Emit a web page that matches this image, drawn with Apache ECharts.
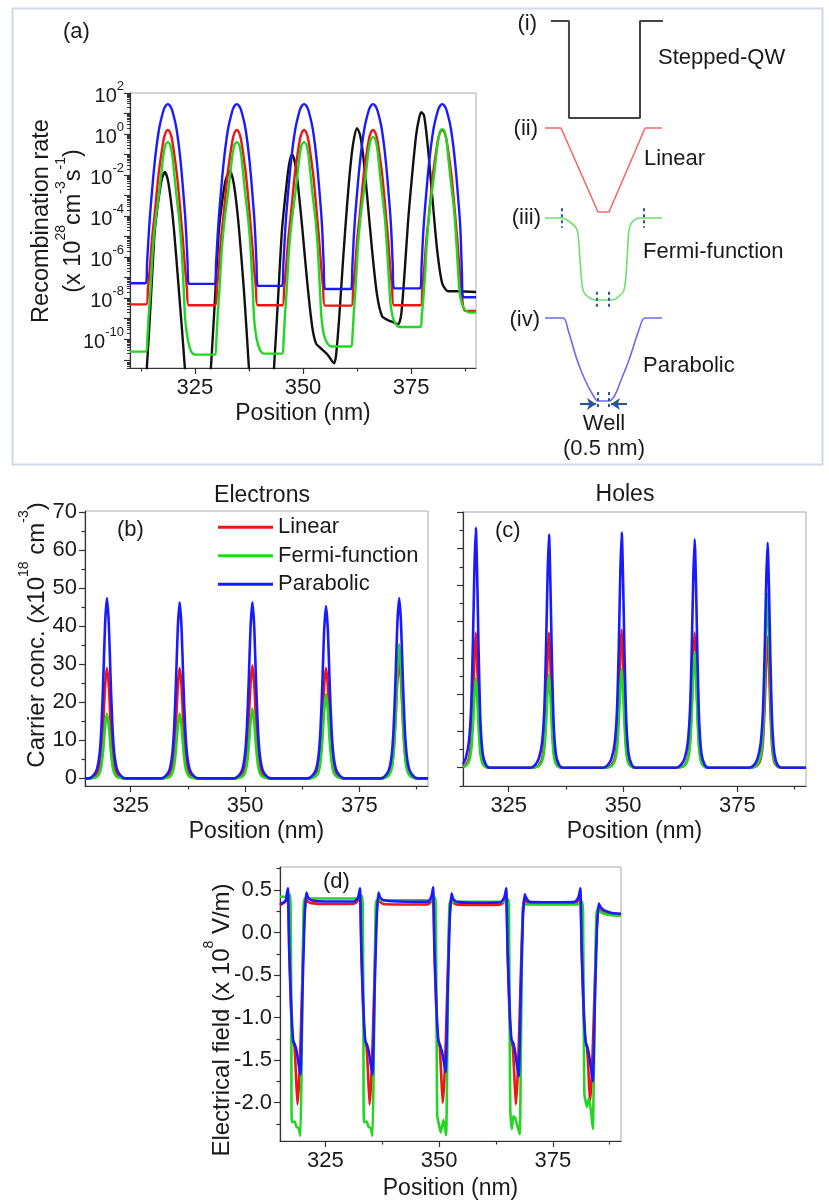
<!DOCTYPE html>
<html>
<head>
<meta charset="utf-8">
<script src="https://cdn.jsdelivr.net/npm/echarts@6/dist/echarts.min.js"></script>
<style>
html, body { margin: 0; padding: 0; background: #ffffff; }
#chart { width: 829px; height: 1202px; }
</style>
</head>
<body>
<div id="chart"></div>
<script>
// ---------------- (a) recombination rate: [position nm, log10(rate / 1e28 cm^-3 s^-1)]
const logRateStepped = [
  [312.96, -14], [313.89, -11.41], [314.81, -8.1], [315.74, -4.68], [316.67, -3.07], [317.36, -2.2], [318.06, -1.85],
  [318.75, -2.24], [319.44, -3.22], [320.14, -4.59], [321.3, -7.61], [322.69, -11.41], [323.38, -14],
  [327.78, -14], [328.7, -11.41], [329.63, -8.1], [330.56, -4.68], [331.48, -3.02], [332.18, -2.2], [333.1, -1.8],
  [333.8, -2.2], [334.49, -3.17], [335.19, -4.59], [336.34, -7.61], [337.5, -11.41], [338.19, -14],
  [342.36, -14], [343.29, -11.41], [344.21, -8.1], [345.14, -4.68], [346.06, -2.73], [346.76, -1.51], [347.45, -0.98],
  [348.15, -1.41], [348.84, -2.49], [349.77, -4.44], [350.93, -7.12], [352.08, -9.32], [353.01, -10.2], [354.4, -10.49],
  [355.79, -10.78], [357.18, -11.17], [357.64, -10.78], [358.33, -9.07], [359.26, -6.15], [360.19, -3.46], [361.11, -1.27],
  [361.81, -0.2], [362.5, 0.29], [363.19, -0.05], [363.89, -1.02], [364.81, -2.98], [365.97, -5.66], [367.13, -7.85],
  [368.29, -8.88], [369.68, -9.07], [370.83, -9.17], [371.99, -9.27], [372.69, -8.83], [373.61, -6.39], [374.31, -4.2],
  [375.23, -2.0], [376.16, -0.05], [376.85, 0.78], [377.31, 1.07], [378.01, 0.88], [378.94, -0.78], [379.86, -2.98],
  [381.02, -5.66], [382.18, -7.27], [383.56, -7.66], [385.65, -7.66], [390, -7.7]
];
const logRateLinear = [
  [310, -8.3],
  [313.75, -8.3], [314.15, -7.5], [314.55, -6.6], [315.05, -5.2], [315.65, -4.0], [316.2, -2.8], [316.7, -1.8], [317.75, -0.3], [318.25, 0.08], [318.75, 0.2],
  [319.25, 0.08], [319.75, -0.3], [320.75, -1.8], [321.25, -2.8], [321.75, -4.0], [322.25, -5.2], [322.75, -6.6], [323.15, -7.5], [323.55, -8.34],
  [329.7, -8.34], [330.1, -7.5], [330.5, -6.6], [331.0, -5.2], [331.6, -4.0], [332.15, -2.8], [332.65, -1.8], [333.7, -0.3], [334.2, 0.08], [334.7, 0.2],
  [335.2, 0.08], [335.7, -0.3], [336.7, -1.8], [337.2, -2.8], [337.7, -4.0], [338.2, -5.2], [338.7, -6.6], [339.1, -7.5], [339.5, -8.34],
  [345.25, -8.34], [345.65, -7.5], [346.05, -6.6], [346.55, -5.2], [347.15, -4.0], [347.7, -2.8], [348.2, -1.8], [349.25, -0.3], [349.75, 0.08], [350.25, 0.2],
  [350.75, 0.08], [351.25, -0.3], [352.25, -1.8], [352.75, -2.8], [353.25, -4.0], [353.75, -5.2], [354.25, -6.6], [354.65, -7.5], [355.05, -8.36],
  [361.2, -8.36], [361.6, -7.5], [362.0, -6.6], [362.5, -5.2], [363.1, -4.0], [363.65, -2.8], [364.15, -1.8], [365.2, -0.3], [365.7, 0.08], [366.2, 0.2],
  [366.7, 0.08], [367.2, -0.3], [368.2, -1.8], [368.7, -2.8], [369.2, -4.0], [369.7, -5.2], [370.2, -6.6], [370.6, -7.5], [371.0, -8.34],
  [377.2, -8.34], [377.6, -7.5], [378.0, -6.6], [378.5, -5.2], [379.1, -4.0], [379.65, -2.8], [380.15, -1.8], [381.2, -0.3], [381.7, 0.08], [382.2, 0.2],
  [382.7, 0.08], [383.2, -0.3], [384.2, -1.8], [384.7, -2.8], [385.2, -4.0], [385.7, -5.2], [386.2, -6.6], [386.7, -7.7], [387.4, -8.6],
  [390, -8.62]
];
const logRateFermi = [
  [310, -10.6],
  [313.75, -10.6], [314.0, -10.0], [314.3, -8.9], [314.7, -7.7], [315.25, -5.7], [315.85, -4.3], [316.65, -3.0], [317.3, -1.8], [317.75, -1.0], [318.25, -0.5], [318.75, -0.4],
  [319.25, -0.5], [319.75, -1.0], [320.15, -1.8], [320.75, -3.0], [321.45, -4.3], [321.95, -5.7], [322.45, -7.7], [322.75, -9.0], [323.35, -10.0], [324.15, -10.6], [325.05, -10.75],
  [329.7, -10.75], [329.95, -10.1], [330.25, -8.9], [330.65, -7.7], [331.2, -5.7], [331.8, -4.3], [332.6, -3.0], [333.25, -1.8], [333.7, -1.0], [334.2, -0.5], [334.7, -0.4],
  [335.2, -0.5], [335.7, -1.0], [336.1, -1.8], [336.7, -3.0], [337.4, -4.3], [337.9, -5.7], [338.4, -7.7], [338.7, -9.0], [339.3, -10.0], [340.1, -10.55], [341.0, -10.7],
  [345.25, -10.7], [345.5, -10.1], [345.8, -8.9], [346.2, -7.7], [346.75, -5.7], [347.35, -4.3], [348.15, -3.0], [348.8, -1.8], [349.25, -1.0], [349.75, -0.5], [350.25, -0.4],
  [350.75, -0.5], [351.25, -1.0], [351.65, -1.8], [352.25, -3.0], [352.95, -4.3], [353.45, -5.7], [353.95, -7.7], [354.25, -8.9], [354.85, -9.8], [355.65, -10.2], [356.55, -10.35],
  [361.2, -10.35], [361.45, -9.8], [361.75, -8.7], [362.15, -7.5], [362.7, -5.45], [363.3, -4.05], [364.1, -2.75], [364.75, -1.55], [365.2, -0.75], [365.7, -0.25], [366.2, -0.15],
  [366.7, -0.25], [367.2, -0.75], [367.6, -1.55], [368.2, -2.75], [368.9, -4.05], [369.4, -5.45], [369.9, -7.2], [370.2, -8.2], [370.8, -8.95], [371.6, -9.3], [372.5, -9.4],
  [377.2, -9.4], [377.45, -8.9], [377.75, -8.2], [378.15, -7.1], [378.7, -5.06], [379.3, -3.66], [380.1, -2.36], [380.75, -1.16], [381.2, -0.36], [381.7, 0.14], [382.2, 0.24],
  [382.7, 0.14], [383.2, -0.36], [383.6, -1.16], [384.2, -2.36], [384.9, -3.66], [385.4, -5.06], [385.9, -6.8], [386.2, -7.7], [386.8, -8.3], [387.6, -8.6], [388.5, -8.7],
  [390, -8.7]
];
const logRateParabolic = [
  [310, -7.27],
  [313.65, -7.27], [313.95, -6.27], [314.3, -5.0], [314.65, -3.9], [315.65, -1.5], [316.7, 0.22], [317.75, 1.16], [318.25, 1.38], [318.75, 1.46],
  [319.25, 1.38], [319.75, 1.16], [320.75, 0.26], [321.7, -1.34], [322.7, -3.84], [323.0, -4.9], [323.3, -6.2], [323.6, -7.3],
  [329.6, -7.3], [329.9, -6.3], [330.25, -5.0], [330.6, -3.9], [331.6, -1.5], [332.65, 0.22], [333.7, 1.16], [334.2, 1.38], [334.7, 1.46],
  [335.2, 1.38], [335.7, 1.16], [336.7, 0.26], [337.65, -1.34], [338.65, -3.84], [338.95, -4.9], [339.25, -6.3], [339.55, -7.4],
  [345.15, -7.4], [345.45, -6.4], [345.8, -5.0], [346.15, -3.9], [347.15, -1.5], [348.2, 0.22], [349.25, 1.16], [349.75, 1.38], [350.25, 1.46],
  [350.75, 1.38], [351.25, 1.16], [352.25, 0.26], [353.2, -1.34], [354.2, -3.84], [354.5, -4.9], [354.8, -6.45], [355.1, -7.55],
  [361.1, -7.55], [361.4, -6.5], [361.75, -5.0], [362.1, -3.9], [363.1, -1.5], [364.15, 0.22], [365.2, 1.16], [365.7, 1.38], [366.2, 1.46],
  [366.7, 1.38], [367.2, 1.16], [368.2, 0.26], [369.15, -1.34], [370.15, -3.84], [370.45, -4.9], [370.75, -6.4], [371.05, -7.52],
  [377.1, -7.52], [377.4, -6.5], [377.75, -5.0], [378.1, -3.9], [379.1, -1.5], [380.15, 0.22], [381.2, 1.16], [381.7, 1.38], [382.2, 1.46],
  [382.7, 1.38], [383.2, 1.16], [384.2, 0.26], [385.15, -1.34], [386.15, -3.84], [386.45, -4.9], [386.75, -6.8], [387.05, -7.95],
  [390, -7.95]
];
const rateTickExponents = [-10, -8, -6, -4, -2, 0, 2];

// ---------------- well profiles: [position relative to well centre (nm), normalised band edge]
const wellStepped = [[-2.39, 1], [-1.57, 1], [-1.57, 0], [1.66, 0], [1.66, 1], [2.7, 1]];
const wellLinear = [[-2.66, 1], [-1.93, 1], [-0.25, 0], [0.25, 0], [1.89, 1], [2.66, 1]];
const wellFermi = [[-2.66, 1], [-1.9, 1], [-1.52, 0.95], [-1.2, 0.854], [-1.07, 0.49], [-0.93, 0.12], [-0.7, 0.037], [-0.4, 0],
  [0.4, 0], [0.66, 0.037], [0.93, 0.12], [1.07, 0.49], [1.16, 0.854], [1.3, 0.95], [1.66, 1], [2.66, 1]];
const wellParabolic = [[-2.66, 1], [-1.84, 1], [-1.61, 0.855], [-1.2, 0.494], [-0.84, 0.253], [-0.48, 0.072], [-0.25, 0],
  [0.25, 0], [0.52, 0.072], [0.8, 0.253], [1.16, 0.494], [1.61, 0.855], [1.89, 1], [2.66, 1]];
const wellWidth = 0.5;

// ---------------- (b) electron concentration (x1e18 cm^-3)
const posElectrons = [315,
  315.8, 316.8, 317.6, 318.2, 318.6, 319.0, 319.4, 319.8, 320.2, 320.6, 321.0, 321.4, 322.0, 322.8, 323.8,
  331.7, 332.7, 333.5, 334.1, 334.5, 334.9, 335.3, 335.7, 336.1, 336.5, 336.9, 337.3, 337.9, 338.7, 339.7,
  347.6, 348.6, 349.4, 350.0, 350.4, 350.8, 351.2, 351.6, 352.0, 352.4, 352.8, 353.2, 353.8, 354.6, 355.6,
  363.7, 364.7, 365.5, 366.1, 366.5, 366.9, 367.3, 367.7, 368.1, 368.5, 368.9, 369.3, 369.9, 370.7, 371.7,
  379.7, 380.7, 381.5, 382.1, 382.5, 382.9, 383.3, 383.7, 384.1, 384.5, 384.9, 385.3, 385.9, 386.7, 387.7,
  390];
const elecLinear = [0,
  0, 0.3, 1.2, 3.2, 7.3, 14.5, 24.4, 29.0, 24.4, 14.5, 7.3, 3.2, 1.2, 0.3, 0,
  0, 0.3, 1.2, 3.2, 7.3, 14.5, 24.4, 29.0, 24.4, 14.5, 7.3, 3.2, 1.2, 0.3, 0,
  0, 0.3, 1.2, 3.3, 7.4, 14.9, 24.9, 29.7, 24.9, 14.9, 7.4, 3.3, 1.2, 0.3, 0,
  0, 0.3, 1.2, 3.2, 7.3, 14.5, 24.4, 29.0, 24.4, 14.5, 7.3, 3.2, 1.2, 0.3, 0,
  0, 0.3, 1.2, 3.4, 7.6, 15.3, 25.6, 30.5, 25.6, 15.3, 7.6, 3.4, 1.2, 0.3, 0,
  0];
const elecFermi = [0,
  0, 0.1, 0.4, 1.4, 3.4, 7.7, 13.7, 17.1, 13.7, 7.7, 3.4, 1.4, 0.4, 0.1, 0,
  0, 0.1, 0.4, 1.4, 3.4, 7.7, 13.7, 17.1, 13.7, 7.7, 3.4, 1.4, 0.4, 0.1, 0,
  0, 0.1, 0.5, 1.5, 3.7, 8.3, 14.7, 18.4, 14.7, 8.3, 3.7, 1.5, 0.5, 0.1, 0,
  0, 0.1, 0.6, 1.8, 4.4, 9.9, 17.7, 22.1, 17.7, 9.9, 4.4, 1.8, 0.6, 0.1, 0,
  0, 0.2, 0.9, 2.8, 7.1, 15.9, 28.2, 35.3, 28.2, 15.9, 7.1, 2.8, 0.9, 0.2, 0,
  0];
const elecParabolic = [0,
  0, 0.7, 2.4, 6.6, 13.7, 26.1, 40.8, 47.4, 40.8, 26.1, 13.7, 6.6, 2.4, 0.7, 0,
  0, 0.7, 2.3, 6.5, 13.4, 25.5, 39.8, 46.3, 39.8, 25.5, 13.4, 6.5, 2.3, 0.7, 0,
  0, 0.7, 2.3, 6.5, 13.4, 25.5, 39.8, 46.3, 39.8, 25.5, 13.4, 6.5, 2.3, 0.7, 0,
  0, 0.7, 2.3, 6.3, 13.1, 24.9, 39.0, 45.3, 39.0, 24.9, 13.1, 6.3, 2.3, 0.7, 0,
  0, 0.7, 2.4, 6.6, 13.7, 26.1, 40.8, 47.4, 40.8, 26.1, 13.7, 6.6, 2.4, 0.7, 0,
  0];

// ---------------- (c) hole concentration (x1e18 cm^-3)
const posHoles = [
  315.0, 315.6, 316.3, 316.8, 317.2, 317.5, 317.8, 318.1, 318.4, 318.8, 319.3, 320.0, 320.8, 321.8,
  329.8, 330.8, 331.6, 332.3, 332.8, 333.2, 333.5, 333.8, 334.1, 334.4, 334.8, 335.3, 336.0, 336.8, 337.8,
  345.7, 346.7, 347.5, 348.2, 348.7, 349.1, 349.4, 349.7, 350.0, 350.3, 350.7, 351.2, 351.9, 352.7, 353.7,
  361.65, 362.65, 363.45, 364.15, 364.65, 365.05, 365.35, 365.65, 365.95, 366.25, 366.65, 367.15, 367.85, 368.65, 369.65,
  377.6, 378.6, 379.4, 380.1, 380.6, 381.0, 381.3, 381.6, 381.9, 382.2, 382.6, 383.1, 383.8, 384.6, 385.6,
  390];
const holeLinear = [
  0.2, 0.7, 2.6, 7.4, 18.5, 30.3, 37.0, 28.9, 16.7, 5.6, 1.5, 0.3, 0, 0,
  0, 0.2, 0.7, 2.6, 7.4, 18.5, 30.3, 37.0, 28.9, 16.7, 5.6, 1.5, 0.3, 0, 0,
  0, 0.2, 0.8, 2.6, 7.6, 18.9, 31.0, 37.8, 29.5, 17.0, 5.7, 1.5, 0.3, 0, 0,
  0, 0.2, 0.7, 2.6, 7.4, 18.5, 30.3, 37.0, 28.9, 16.7, 5.6, 1.5, 0.3, 0, 0,
  0, 0.2, 0.7, 2.5, 7.2, 18.0, 29.4, 35.9, 28.0, 16.2, 5.4, 1.4, 0.3, 0, 0,
  0];
const holeFermi = [
  0.2, 0.5, 1.7, 4.9, 12.2, 20.0, 24.4, 19.0, 11.0, 3.7, 1.0, 0.2, 0, 0,
  0, 0.1, 0.5, 1.8, 5.1, 12.8, 20.9, 25.5, 19.9, 11.5, 3.8, 1.0, 0.2, 0, 0,
  0, 0.1, 0.5, 1.9, 5.4, 13.6, 22.2, 27.1, 21.1, 12.2, 4.1, 1.1, 0.2, 0, 0,
  0, 0.2, 0.6, 2.2, 6.4, 15.9, 26.1, 31.8, 24.8, 14.3, 4.8, 1.3, 0.3, 0, 0,
  0, 0.2, 1.0, 3.3, 9.5, 23.9, 39.1, 47.7, 37.2, 21.5, 7.2, 1.9, 0.4, 0, 0,
  0];
const holeParabolic = [
  1.0, 2.6, 7.2, 17.1, 36.1, 54.5, 65.7, 52.6, 32.9, 13.1, 3.9, 0.8, 0, 0,
  0, 0.8, 2.6, 7.0, 16.6, 35.1, 53.0, 63.8, 51.0, 31.9, 12.8, 3.8, 0.8, 0, 0,
  0, 0.8, 2.6, 7.1, 16.7, 35.4, 53.5, 64.4, 51.5, 32.2, 12.9, 3.9, 0.8, 0, 0,
  0, 0.8, 2.5, 6.9, 16.3, 34.4, 51.9, 62.5, 50.0, 31.3, 12.5, 3.8, 0.8, 0, 0,
  0, 0.7, 2.5, 6.8, 16.0, 33.9, 51.1, 61.6, 49.3, 30.8, 12.3, 3.7, 0.7, 0, 0,
  0];
const concTicks = [0, 10, 20, 30, 40, 50, 60, 70];

// ---------------- (d) electrical field (x1e8 V/m): [position nm, field]
const fieldLinear = [
  [315.0, 0.32], [316.19, 0.36], [316.49, 0.40], [316.74, 0.46], [317.04, -0.25], [317.49, -1.0], [317.89, -1.3], [318.19, -1.34], [318.49, -1.65],
  [318.84, -2.02], [319.19, -1.75], [319.54, -1.25], [319.94, -0.5], [320.34, 0.2], [320.74, 0.40], [321.19, 0.36], [321.89, 0.345],
  [325.0, 0.335], [329.0, 0.335],
  [331.35, 0.34], [332.05, 0.37], [332.35, 0.40], [332.6, 0.46], [332.9, -0.25], [333.35, -1.0], [333.75, -1.3], [334.05, -1.34], [334.35, -1.65],
  [334.7, -2.02], [335.05, -1.75], [335.4, -1.25], [335.8, -0.5], [336.2, 0.2], [336.6, 0.40], [337.05, 0.36], [337.75, 0.335],
  [341.0, 0.33], [345.0, 0.33],
  [347.43, 0.33], [348.13, 0.36], [348.43, 0.40], [348.68, 0.46], [348.98, -0.25], [349.43, -1.0], [349.83, -1.3], [350.13, -1.34], [350.43, -1.65],
  [350.78, -2.0], [351.13, -1.75], [351.48, -1.25], [351.88, -0.5], [352.28, 0.2], [352.68, 0.40], [353.13, 0.35], [353.83, 0.33],
  [357.0, 0.325], [361.0, 0.325],
  [363.51, 0.33], [364.21, 0.36], [364.51, 0.40], [364.76, 0.46], [365.06, -0.25], [365.51, -1.0], [365.91, -1.3], [366.21, -1.34], [366.51, -1.65],
  [366.86, -2.02], [367.21, -1.75], [367.56, -1.25], [367.96, -0.5], [368.36, 0.2], [368.76, 0.40], [369.21, 0.36], [369.91, 0.34],
  [373.0, 0.335], [377.0, 0.335],
  [379.81, 0.34], [380.51, 0.37], [380.81, 0.40], [381.06, 0.46], [381.36, -0.25], [381.81, -1.0], [382.21, -1.3], [382.51, -1.34], [382.81, -1.6],
  [383.16, -1.98], [383.51, -1.75], [383.86, -1.25], [384.26, -0.55], [384.66, 0.05], [385.06, 0.28], [385.5, 0.26], [386.3, 0.23], [388.0, 0.21], [390.0, 0.2]
];
const fieldFermi = [
  [315.0, 0.42], [316.5, 0.42], [317.19, 0.45], [317.34, 0.3], [317.49, -1.0], [317.59, -2.23], [318.19, -2.22], [318.59, -2.28], [319.09, -2.3],
  [319.49, -2.39], [319.74, -1.6], [319.99, -0.4], [320.19, 0.3], [320.44, 0.40], [321.5, 0.40],
  [332.5, 0.40], [333.05, 0.43], [333.2, 0.3], [333.35, -1.0], [333.45, -2.23], [334.05, -2.22], [334.45, -2.28], [334.95, -2.3],
  [335.35, -2.39], [335.6, -1.6], [335.85, -0.4], [336.05, 0.3], [336.3, 0.38], [337.5, 0.38],
  [348.5, 0.38], [349.13, 0.41], [349.28, 0.3], [349.48, -1.5], [349.58, -2.15], [349.93, -2.25], [350.33, -2.35], [350.98, -2.2],
  [351.53, -2.38], [351.78, -1.5], [352.03, -0.3], [352.23, 0.3], [352.43, 0.36], [353.5, 0.36],
  [364.5, 0.36], [365.21, 0.39], [365.36, 0.3], [365.56, -1.5], [365.66, -2.1], [365.97, -2.31], [366.31, -2.16], [366.71, -2.18],
  [367.71, -2.37], [367.96, -1.5], [368.21, -0.3], [368.41, 0.28], [368.61, 0.33], [369.5, 0.33],
  [380.5, 0.33], [381.51, 0.36], [381.66, 0.2], [381.81, -1.0], [381.96, -1.9], [382.51, -2.05], [382.91, -1.95], [383.41, -2.1],
  [383.81, -2.31], [384.11, -1.3], [384.41, -0.2], [384.61, 0.22], [384.85, 0.28], [385.5, 0.24], [387.0, 0.21], [390.0, 0.2]
];
const fieldParabolic = [
  [315.0, 0.33], [316.19, 0.37], [316.49, 0.45], [316.74, 0.52], [317.04, -0.2], [317.49, -0.9], [317.89, -1.27], [318.29, -1.32], [318.69, -1.40],
  [319.09, -1.55], [319.49, -1.67], [319.94, -0.7], [320.39, 0.15], [320.79, 0.47], [321.19, 0.41], [321.89, 0.38],
  [325.0, 0.365], [329.0, 0.365],
  [331.35, 0.365], [332.05, 0.40], [332.35, 0.45], [332.6, 0.52], [332.9, -0.2], [333.35, -0.9], [333.75, -1.27], [334.15, -1.32], [334.55, -1.40],
  [334.95, -1.55], [335.35, -1.67], [335.8, -0.7], [336.25, 0.15], [336.65, 0.47], [337.05, 0.41], [337.75, 0.38],
  [341.0, 0.365], [345.0, 0.36],
  [347.43, 0.36], [348.13, 0.40], [348.43, 0.45], [348.68, 0.53], [348.98, -0.2], [349.43, -0.9], [349.83, -1.27], [350.23, -1.33], [350.63, -1.40],
  [351.03, -1.52], [351.43, -1.64], [351.88, -0.7], [352.33, 0.15], [352.73, 0.46], [353.13, 0.39], [353.83, 0.36],
  [357.0, 0.35], [361.0, 0.35],
  [363.51, 0.355], [364.21, 0.40], [364.51, 0.45], [364.76, 0.52], [365.06, -0.2], [365.51, -0.9], [365.91, -1.26], [366.31, -1.30], [366.71, -1.40],
  [367.11, -1.56], [367.51, -1.69], [367.96, -0.7], [368.41, 0.15], [368.81, 0.45], [369.21, 0.40], [369.91, 0.36],
  [373.0, 0.355], [377.0, 0.355],
  [379.81, 0.36], [380.51, 0.40], [380.81, 0.45], [381.06, 0.52], [381.36, -0.2], [381.81, -0.9], [382.21, -1.28], [382.61, -1.35], [383.01, -1.45],
  [383.41, -1.6], [383.81, -1.75], [384.26, -0.8], [384.71, 0.05], [385.11, 0.34], [385.51, 0.30], [386.3, 0.26], [388.0, 0.23], [390.0, 0.22]
];
const fieldTicks = [0.5, 0.0, -0.5, -1.0, -1.5, -2.0];

const positionTicks = [325, 350, 375];
const positionMinorTicks = [312.5, 337.5, 362.5, 387.5];

// ---------------- drawing
const FONT = "'Liberation Sans', Arial, Helvetica, sans-serif";
const INK = '#1a1a1a';
const RED = '#f01515';
const GREEN = '#22d622';
const BLUE = '#1a1aff';
const BLACK = '#111111';
const WELLMARK = '#2b5597';

const chart = echarts.init(document.getElementById('chart'), null, { renderer: 'canvas' });

const grids = [
  { left: 130, top: 93, width: 346, height: 275 },          // 0 (a)
  { left: 543, top: 6.45, width: 121, height: 126.1 },      // 1 (i)
  { left: 543, top: 115.4, width: 121, height: 109.2 },     // 2 (ii)
  { left: 543, top: 205.7, width: 121, height: 106.6 },     // 3 (iii)
  { left: 543, top: 305.55, width: 121, height: 107.9 },    // 4 (iv)
  { left: 85, top: 511, width: 343, height: 275 },          // 5 (b)
  { left: 463, top: 512, width: 343, height: 274 },         // 6 (c)
  { left: 280, top: 867, width: 341, height: 274 }          // 7 (d)
].map((g, i) => Object.assign({
  show: i === 0 || i >= 5,
  borderColor: '#a9a9a9',
  borderWidth: 1,
  containLabel: false,
  outerBoundsMode: 'none'
}, g));

function posAxis(grid, min, max, nameGap) {
  return [{
    type: 'value', gridIndex: grid, min: min, max: max, position: 'bottom',
    axisLine: { show: true, onZero: false, lineStyle: { color: '#333', width: 1.2 } },
    axisTick: { show: true, customValues: positionTicks, length: 6, lineStyle: { color: '#333', width: 1.2 } },
    axisLabel: { customValues: positionTicks, fontSize: 22, fontFamily: FONT, color: INK, margin: 9 },
    splitLine: { show: false },
    name: 'Position (nm)', nameLocation: 'middle', nameGap: nameGap,
    nameTextStyle: { fontSize: 23, fontFamily: FONT, color: INK }
  }, {
    type: 'value', gridIndex: grid, min: min, max: max, position: 'bottom',
    axisLine: { show: false, onZero: false },
    axisTick: { show: true, customValues: positionMinorTicks, length: 3.5, lineStyle: { color: '#333', width: 1.2 } },
    axisLabel: { show: false }, splitLine: { show: false }
  }];
}

function hiddenAxis(grid, min, max) {
  return { type: 'value', gridIndex: grid, min: min, max: max, show: false };
}

const rateMinor = [];
for (let e = -12; e <= 1; e++) for (let k = 2; k <= 9; k++) rateMinor.push(k * Math.pow(10, e));
const rateMajor = [];
for (let e = -11; e <= 2; e++) rateMajor.push(Math.pow(10, e));

const supRich = {
  b: { fontSize: 20, lineHeight: 26, fontFamily: FONT, color: INK, verticalAlign: 'bottom' },
  s: { fontSize: 13, lineHeight: 17, fontFamily: FONT, color: INK, verticalAlign: 'top' }
};

const xAxes = [
  ...posAxis(0, 310, 390, 34),
  hiddenAxis(1, -2.75, 2.75), hiddenAxis(2, -2.75, 2.75), hiddenAxis(3, -2.75, 2.75), hiddenAxis(4, -2.75, 2.75),
  ...posAxis(5, 315, 390, 34),
  ...posAxis(6, 315, 390, 34),
  ...posAxis(7, 315, 390, 36)
];

function linAxis(grid, min, max, major, minor, labels, fmt) {
  return [{
    type: 'value', gridIndex: grid, min: min, max: max, position: 'left',
    axisLine: { show: true, onZero: false, lineStyle: { color: '#333', width: 1.2 } },
    axisTick: { show: true, customValues: major, length: 6, lineStyle: { color: '#333', width: 1.2 } },
    axisLabel: labels ? { customValues: labels, fontSize: 22, fontFamily: FONT, color: INK, margin: 8, formatter: fmt } : { show: false },
    splitLine: { show: false }
  }, {
    type: 'value', gridIndex: grid, min: min, max: max, position: 'left',
    axisLine: { show: false, onZero: false },
    axisTick: { show: true, customValues: minor, length: 3.5, lineStyle: { color: '#333', width: 1.2 } },
    axisLabel: { show: false }, splitLine: { show: false }
  }];
}

const yAxes = [
  {
    type: 'log', logBase: 10, gridIndex: 0, min: Math.pow(10, -11.4), max: 100, position: 'left',
    axisLine: { show: true, onZero: false, lineStyle: { color: '#333', width: 1.2 } },
    axisTick: { show: true, customValues: rateMajor, length: 6, lineStyle: { color: '#333', width: 1.2 } },
    axisLabel: {
      customValues: rateTickExponents.map(e => Math.pow(10, e)), margin: 6,
      formatter: v => '{b|10}{s|' + Math.round(Math.log10(v)) + '}', rich: supRich
    },
    splitLine: { show: false }
  },
  {
    type: 'log', logBase: 10, gridIndex: 0, min: Math.pow(10, -11.4), max: 100, position: 'left',
    axisLine: { show: false, onZero: false },
    axisTick: { show: true, customValues: rateMinor.filter(v => v > Math.pow(10, -11.4) && v < 100), length: 3, lineStyle: { color: '#333', width: 1 } },
    axisLabel: { show: false }, splitLine: { show: false }
  },
  hiddenAxis(1, -0.15, 1.15), hiddenAxis(2, -0.15, 1.15), hiddenAxis(3, -0.15, 1.15), hiddenAxis(4, -0.15, 1.15),
  ...linAxis(5, -2, 70.3, concTicks, [5, 15, 25, 35, 45, 55, 65], concTicks, v => String(v)),
  ...linAxis(6, -5, 70, concTicks, [-5, 5, 15, 25, 35, 45, 55, 65], null, null),
  ...linAxis(7, -2.45, 0.77, fieldTicks, [0.75, 0.25, -0.25, -0.75, -1.25, -1.75, -2.25], fieldTicks, v => v.toFixed(1))
];

function line(name, data, color, xi, yi, width, extra) {
  return Object.assign({
    type: 'line', name: name, data: data, xAxisIndex: xi, yAxisIndex: yi,
    symbol: 'none', showSymbol: false, silent: true, animation: false,
    smooth: 0.25, lineStyle: { color: color, width: width }, itemStyle: { color: color }
  }, extra || {});
}
const toRate = arr => arr.map(p => [p[0], Math.pow(10, p[1])]);
const zip = (xs, ys) => xs.map((x, i) => [x, ys[i]]);
const markerStyle = { color: WELLMARK, width: 2, type: [3, 3] };

const series = [
  // (a)
  line('Stepped-QW', toRate(logRateStepped), BLACK, 0, 0, 2.4),
  line('Linear', toRate(logRateLinear), RED, 0, 0, 2.4),
  line('Fermi-function', toRate(logRateFermi), GREEN, 0, 0, 2.4),
  line('Parabolic', toRate(logRateParabolic), BLUE, 0, 0, 2.4),
  // well schematics
  line('Stepped-QW', wellStepped, '#444444', 2, 2, 2, { smooth: false }),
  line('Linear', wellLinear, '#f26b6b', 3, 3, 1.6, { smooth: false }),
  line('Fermi-function', wellFermi, '#6ee06e', 4, 4, 1.6, { smooth: 0.35 }),
  line('Parabolic', wellParabolic, '#6a6af0', 5, 5, 1.6, {
    smooth: 0.35,
    markLine: {
      silent: true, symbol: ['none', 'arrow'], symbolSize: [9, 9], animation: false,
      label: { show: false },
      lineStyle: { color: WELLMARK, width: 2, type: 'solid' },
      data: [
        [{ coord: [-1.07, -0.036] }, { coord: [-wellWidth / 2 - 0.09, -0.036] }],
        [{ coord: [1.07, -0.036] }, { coord: [wellWidth / 2 + 0.09, -0.036] }]
      ]
    }
  }),
  line('mark', [[-1.89, 1.12], [-1.89, 0.88]], WELLMARK, 4, 4, 2, { smooth: false, clip: false, lineStyle: markerStyle }),
  line('mark', [[1.84, 1.12], [1.84, 0.88]], WELLMARK, 4, 4, 2, { smooth: false, clip: false, lineStyle: markerStyle }),
  line('mark', [[-wellWidth / 2 - 0.05, 0.1], [-wellWidth / 2 - 0.05, -0.12]], WELLMARK, 4, 4, 2, { smooth: false, clip: false, lineStyle: markerStyle }),
  line('mark', [[wellWidth / 2, 0.1], [wellWidth / 2, -0.12]], WELLMARK, 4, 4, 2, { smooth: false, clip: false, lineStyle: markerStyle }),
  line('mark', [[-wellWidth / 2, 0.108], [-wellWidth / 2, -0.084]], WELLMARK, 5, 5, 2, { smooth: false, clip: false, lineStyle: markerStyle }),
  line('mark', [[wellWidth / 2, 0.108], [wellWidth / 2, -0.084]], WELLMARK, 5, 5, 2, { smooth: false, clip: false, lineStyle: markerStyle }),
  // (b)
  line('Linear', zip(posElectrons, elecLinear), RED, 6, 6, 2.6),
  line('Fermi-function', zip(posElectrons, elecFermi), GREEN, 6, 6, 2.6),
  line('Parabolic', zip(posElectrons, elecParabolic), BLUE, 6, 6, 2.6),
  // (c)
  line('Linear', zip(posHoles, holeLinear), RED, 8, 8, 2.6),
  line('Fermi-function', zip(posHoles, holeFermi), GREEN, 8, 8, 2.6),
  line('Parabolic', zip(posHoles, holeParabolic), BLUE, 8, 8, 2.6),
  // (d)
  line('Linear', fieldLinear, RED, 10, 10, 2.6, { smooth: 0.15 }),
  line('Fermi-function', fieldFermi, GREEN, 10, 10, 2.6, { smooth: 0.15 }),
  line('Parabolic', fieldParabolic, BLUE, 10, 10, 2.6, { smooth: 0.15 })
];

function txt(x, y, text, align, size, extra) {
  return Object.assign({
    type: 'text', x: x, y: y, silent: true,
    style: {
      text: text, fontSize: size || 22, fontFamily: FONT, fill: INK,
      align: align || 'left', verticalAlign: 'middle',
      textAlign: align || 'left', textVerticalAlign: 'middle'
    }
  }, extra || {});
}
function richTitle(x, y, text, size) {
  return {
    type: 'text', x: x, y: y, rotation: Math.PI / 2, silent: true,
    style: {
      text: text, fontFamily: FONT, fill: INK, align: 'center', verticalAlign: 'middle',
      textAlign: 'center', textVerticalAlign: 'middle',
      rich: {
        t: { fontSize: size, lineHeight: 32, fontFamily: FONT, color: INK, verticalAlign: 'bottom' },
        s: { fontSize: 14, lineHeight: 20, fontFamily: FONT, color: INK, verticalAlign: 'top' }
      }
    }
  };
}

const graphics = [
  { type: 'rect', silent: true, shape: { x: 12.5, y: 8.5, width: 810, height: 456 }, style: { fill: 'none', stroke: '#cfd9e8', lineWidth: 2 } },
  txt(63, 32, '(a)'),
  richTitle(54, 221, '{t|Recombination rate}\n{t|(x 10}{s|28}{t|cm}{s|-3}{t|s}{s|-1}{t|)}', 23.5),
  txt(537, 24, '(i)', 'right'),
  txt(538, 129, '(ii)', 'right'),
  txt(541, 218, '(iii)', 'right'),
  txt(540, 320, '(iv)', 'right'),
  txt(658, 58, 'Stepped-QW'),
  txt(644, 159, 'Linear'),
  txt(643, 252, 'Fermi-function'),
  txt(643, 366, 'Parabolic'),
  txt(604, 424, 'Well', 'center'),
  txt(604, 449, '(0.5 nm)', 'center'),
  txt(262, 496, 'Electrons', 'center', 23),
  txt(625, 495, 'Holes', 'center', 23),
  txt(117, 530, '(b)'),
  txt(495, 531, '(c)'),
  txt(323, 882, '(d)'),
  richTitle(33, 635, '{t|Carrier conc. (x10}{s|18}{t| cm}{s|-3}{t|)}', 24),
  richTitle(218, 1020, '{t|Electrical field (x 10}{s|8}{t| V/m)}', 24)
];

chart.setOption({
  animation: false,
  backgroundColor: '#ffffff',
  grid: grids,
  xAxis: xAxes,
  yAxis: yAxes,
  legend: {
    data: ['Linear', 'Fermi-function', 'Parabolic'],
    left: 218, top: 516, orient: 'vertical', padding: 0,
    icon: 'rect', itemWidth: 55, itemHeight: 3, itemGap: 6,
    selectedMode: false,
    textStyle: { fontSize: 22, lineHeight: 22.5, fontFamily: FONT, color: INK }
  },
  series: series,
  graphic: graphics
});
</script>
</body>
</html>
